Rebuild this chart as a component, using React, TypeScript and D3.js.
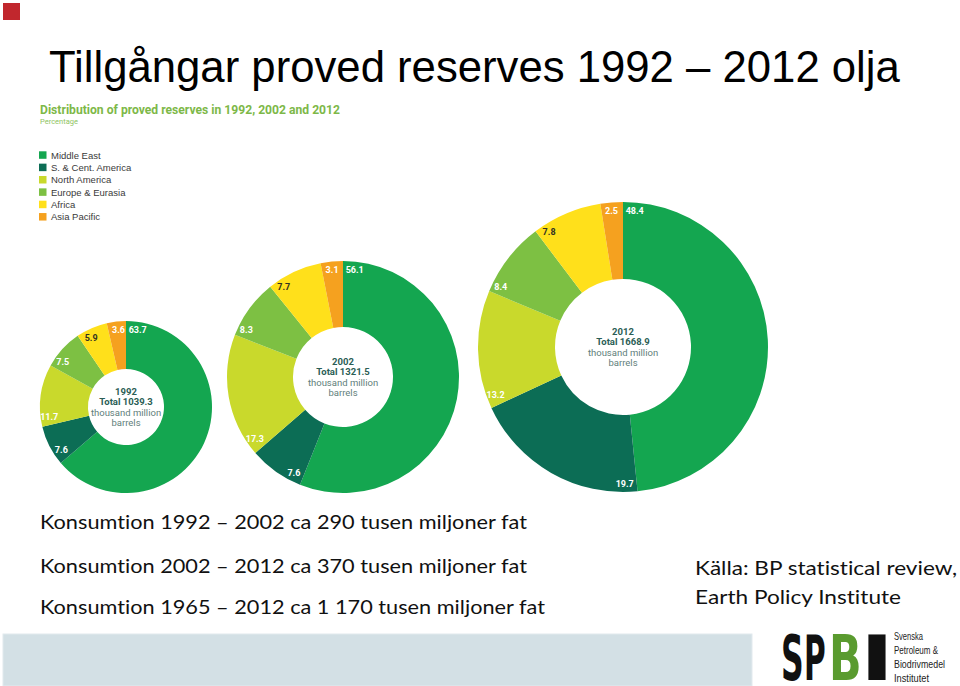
import React from "react";
import * as d3 from "d3";

// ---------- data ----------
const REGIONS = ["Middle East", "S. & Cent. America", "North America", "Europe & Eurasia", "Africa", "Asia Pacific"];
const YEARS = ["1992", "2002", "2012"];
const TOTALS = [1039.3, 1321.5, 1668.9];
const SHARE_1992 = [63.7, 7.6, 11.7, 7.5, 5.9, 3.6];
const SHARE_2002 = [56.1, 7.6, 17.3, 8.3, 7.7, 3.1];
const SHARE_2012 = [48.4, 19.7, 13.2, 8.4, 7.8, 2.5];
const SHARES = [SHARE_1992, SHARE_2002, SHARE_2012];

const TITLE = "Tillgångar proved reserves 1992 – 2012 olja";
const CHART_TITLE = "Distribution of proved reserves in 1992, 2002 and 2012";
const CHART_SUBTITLE = "Percentage";
const CONSUMPTION_LINES = [
  "Konsumtion 1992 – 2002 ca 290 tusen miljoner fat",
  "Konsumtion 2002 – 2012 ca 370 tusen miljoner fat",
  "Konsumtion 1965 – 2012 ca 1 170 tusen miljoner fat",
];
const SOURCE_LINES = ["Källa: BP statistical review,", "Earth Policy Institute"];
const LOGO_LETTERS = ["S", "P", "B", "I"];
const LOGO_LINES = ["Svenska", "Petroleum &", "Biodrivmedel", "Institutet"];

// ---------- styles / layout ----------
const REGION_COLORS = ["#14a650", "#0c6d55", "#c9d92c", "#7dc043", "#ffe01b", "#f5a11f"];
const LABEL_COLORS = ["#ffffff", "#ffffff", "#ffffff", "#ffffff", "#333322", "#ffffff"];
const DONUTS = [
  { cx: 126, cy: 407, r: 86, ir: 38 },
  { cx: 343, cy: 377, r: 116, ir: 50 },
  { cx: 623, cy: 347, r: 145, ir: 68 },
];
const CONS_Y = [529, 573, 614];
const CONS_W = [487, 487, 505];
const SOURCE_Y = [575, 604];
const SOURCE_W = [262, 206];
const LOGO_LETTER_X = [781, 804, 829, 860];
const LOGO_LETTER_SX = [0.5, 0.47, 0.68, 1.45];
const LOGO_LETTER_FILL = ["#111", "#111", "#5a9b2f", "#111"];
const LOGO_LINE_W = [29, 44, 51, 35];

const color = d3.scaleOrdinal<string, string>().domain(REGIONS).range(REGION_COLORS);
const labelColor = d3.scaleOrdinal<string, string>().domain(REGIONS).range(LABEL_COLORS);

function Donut({ idx }: { idx: number }) {
  const L = DONUTS[idx];
  const data = REGIONS.map((name, i) => ({ name, value: SHARES[idx][i] }));
  const pie = d3
    .pie<{ name: string; value: number }>()
    .sort(null)
    .value((d) => d.value)
    .startAngle(0)
    .endAngle(2 * Math.PI);
  const arcs = pie(data);
  const arc = d3.arc<d3.PieArcDatum<{ name: string; value: number }>>().innerRadius(L.ir).outerRadius(L.r);
  const rl = L.r - 9;
  const fmt = d3.format(".1f");
  return (
    <g transform={`translate(${L.cx},${L.cy})`}>
      {arcs.map((a) => (
        <path key={a.data.name} d={arc(a) || ""} fill={color(a.data.name)} />
      ))}
      {arcs.map((a) => {
        const t = a.startAngle;
        const txt = fmt(a.data.value);
        const w = txt.length * 4.6;
        const h = 7;
        const ux = Math.sin(t), uy = -Math.cos(t);
        const nx = Math.cos(t), ny = Math.sin(t);
        const ext = Math.abs(nx) * (w / 2) + Math.abs(ny) * (h / 2);
        const d = ext + 2.5;
        const x = rl * ux + d * nx;
        const y = rl * uy + d * ny;
        return (
          <text
            key={"l" + a.data.name}
            x={x}
            y={y}
            textAnchor="middle"
            dominantBaseline="central"
            fontFamily="Roboto, 'DejaVu Sans', sans-serif"
            fontWeight={700}
            fontSize={9}
            fill={labelColor(a.data.name)}
          >
            {txt}
          </text>
        );
      })}
      <g fontFamily="Roboto, 'DejaVu Sans', sans-serif" fontSize={9.5} textAnchor="middle">
        <text y={-15.5} dominantBaseline="central" fontWeight={700} fill="#2b5e55">
          {YEARS[idx]}
        </text>
        <text y={-5.2} dominantBaseline="central" fontWeight={700} fill="#2b5e55">
          {"Total " + fmt(TOTALS[idx])}
        </text>
        <text y={5.2} dominantBaseline="central" fill="#5f807b">
          thousand million
        </text>
        <text y={15.5} dominantBaseline="central" fill="#5f807b">
          barrels
        </text>
      </g>
    </g>
  );
}

export default function App() {
  return (
    <svg
      width={960}
      height={686}
      style={{ position: "absolute", left: 0, top: 0, background: "#ffffff" }}
    >
      <rect x={0} y={0} width={960} height={686} fill="#ffffff" />
      {/* red corner square */}
      <rect x={3} y={3} width={17} height={17} fill="#c1272d" />
      {/* main title */}
      <text
        x={49}
        y={82}
        fontFamily="'Liberation Sans', Arial, sans-serif"
        fontSize={43.7}
        fill="#000"
      >
        {TITLE}
      </text>
      {/* chart title */}
      <text
        x={40}
        y={114}
        fontFamily="Roboto, 'Liberation Sans', sans-serif"
        fontWeight={700}
        fontSize={12.5}
        fill="#7db848"
        textLength={300}
        lengthAdjust="spacingAndGlyphs"
      >
        {CHART_TITLE}
      </text>
      <text x={40} y={124} fontFamily="Roboto, sans-serif" fontSize={7.5} fill="#8fc463">
        {CHART_SUBTITLE}
      </text>
      {/* legend */}
      <g>
        {REGIONS.map((r, i) => (
          <g key={r} transform={`translate(39,${155 + i * 12.35})`}>
            <rect x={0} y={-3.7} width={7.5} height={7.5} fill={color(r)} />
            <text
              x={12}
              y={0}
              dominantBaseline="central"
              fontFamily="'Liberation Sans', Arial, sans-serif"
              fontSize={9.5}
              fill="#3a3a3a"
            >
              {r}
            </text>
          </g>
        ))}
      </g>
      {/* donuts */}
      {YEARS.map((y, i) => (
        <Donut key={y} idx={i} />
      ))}
      {/* consumption text */}
      <g style={{ fontVariantLigatures: "none" }}>
        {CONSUMPTION_LINES.map((t, i) => (
          <text
            key={t}
            x={40}
            y={CONS_Y[i]}
            fontFamily="Lato, 'Open Sans', sans-serif"
            fontSize={20}
            fill="#111"
            textLength={CONS_W[i]}
            lengthAdjust="spacingAndGlyphs"
          >
            {t}
          </text>
        ))}
        {/* source text */}
        {SOURCE_LINES.map((t, i) => (
          <text
            key={t}
            x={695}
            y={SOURCE_Y[i]}
            fontFamily="Lato, 'Open Sans', sans-serif"
            fontSize={20}
            fill="#111"
            textLength={SOURCE_W[i]}
            lengthAdjust="spacingAndGlyphs"
          >
            {t}
          </text>
        ))}
      </g>
      {/* bottom band */}
      <rect x={3} y={634} width={749} height={52} fill="#d3e0e5" stroke="#e2eaee" strokeWidth={1} />
      {/* logo */}
      <g fontFamily="'DejaVu Sans', sans-serif" fontWeight={900}>
        {LOGO_LETTERS.map((l, i) => (
          <text
            key={l}
            transform={`translate(${LOGO_LETTER_X[i]},680) scale(${LOGO_LETTER_SX[i]},1)`}
            fontSize={63}
            fill={LOGO_LETTER_FILL[i]}
          >
            {l}
          </text>
        ))}
      </g>
      <g fontFamily="'Liberation Sans Narrow', 'Liberation Sans', sans-serif" fontSize={11} fill="#222">
        {LOGO_LINES.map((t, i) => (
          <text
            key={t}
            x={894}
            y={640 + i * 14}
            textLength={LOGO_LINE_W[i]}
            lengthAdjust="spacingAndGlyphs"
          >
            {t}
          </text>
        ))}
      </g>
    </svg>
  );
}
